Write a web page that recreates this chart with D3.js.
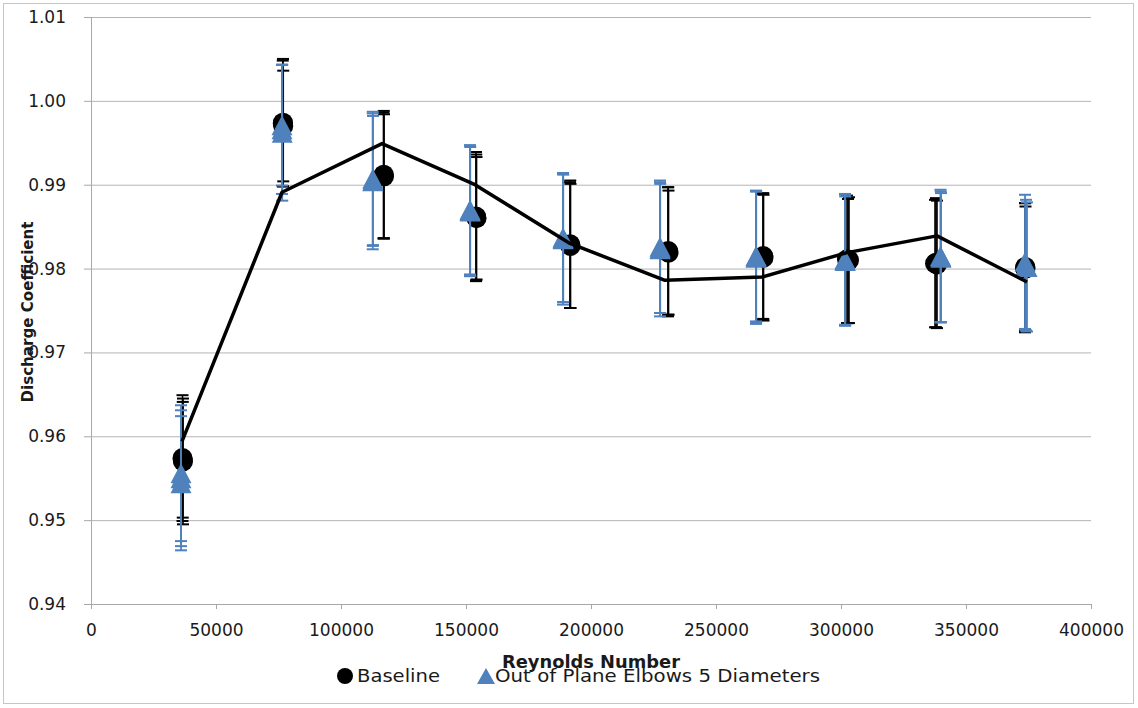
<!DOCTYPE html>
<html>
<head>
<meta charset="utf-8">
<script src="https://cdn.jsdelivr.net/npm/d3@7"></script>
<style>
  body { margin: 0; background: #fff; }
  svg { display: block; }
  text { font-family: "DejaVu Sans", sans-serif; fill: #1a1a1a; }
</style>
</head>
<body>
<svg id="chart" width="1138" height="708"></svg>
<script>
// ---- axis ticks ----
const reynoldsTicks = [0, 50000, 100000, 150000, 200000, 250000, 300000, 350000, 400000];
const cdTicks = [0.94, 0.95, 0.96, 0.97, 0.98, 0.99, 1.00, 1.01];

// ---- mean discharge coefficient curve ----
const curveRe = [36400, 76400, 116400, 153600, 191600, 229600, 268400, 302400, 338400, 374400];
const curveCd = [0.9594, 0.9891, 0.9949, 0.9900, 0.9830, 0.9786, 0.9790, 0.9819, 0.9839, 0.9784];

// ---- Baseline: three repeat runs ----
const baselineRe1 = [36600, 76800, 117000, 154000, 191600, 230800, 268800, 302400, 337600, 373600];
const baselineCd1 = [0.9574, 0.9974, 0.9911, 0.9862, 0.9828, 0.9820, 0.9814, 0.9811, 0.9806, 0.9801];
const baselineErr1 = [0.0075, 0.0076, 0.0075, 0.0077, 0.0075, 0.0077, 0.0075, 0.0076, 0.0076, 0.0077];

const baselineRe2 = [36800, 76900, 117200, 154200, 191800, 231000, 269000, 303200, 338400, 373800];
const baselineCd2 = [0.9570, 0.9970, 0.9910, 0.9860, 0.9827, 0.9819, 0.9813, 0.9810, 0.9805, 0.9800];
const baselineErr2 = [0.0075, 0.0066, 0.0074, 0.0073, 0.0074, 0.0074, 0.0075, 0.0075, 0.0076, 0.0074];

const baselineRe3 = [36700, 76700, 117100, 154100, 191700, 230900, 268900, 302800, 338000, 373700];
const baselineCd3 = [0.9572, 0.9973, 0.9912, 0.9861, 0.9829, 0.9821, 0.9815, 0.9809, 0.9807, 0.9802];
const baselineErr3 = [0.0069, 0.0075, 0.0076, 0.0075, 0.0076, 0.0076, 0.0075, 0.0074, 0.0077, 0.0076];

// ---- Out of Plane Elbows 5 Diameters: three repeat runs ----
const elbowRe1 = [36000, 76400, 112700, 151600, 188800, 227600, 266000, 301600, 339800, 373600];
const elbowCd1 = [0.9556, 0.9971, 0.9907, 0.9870, 0.9837, 0.9826, 0.9815, 0.9810, 0.9815, 0.9808];
const elbowErr1 = [0.0081, 0.0072, 0.0080, 0.0077, 0.0077, 0.0079, 0.0078, 0.0078, 0.0079, 0.0080];

const elbowRe2 = [36000, 76400, 112800, 151700, 188900, 227700, 266100, 301700, 340000, 374000];
const elbowCd2 = [0.9550, 0.9966, 0.9905, 0.9868, 0.9836, 0.9824, 0.9814, 0.9809, 0.9813, 0.9804];
const elbowErr2 = [0.0081, 0.0077, 0.0077, 0.0077, 0.0076, 0.0077, 0.0078, 0.0077, 0.0077, 0.0078];

const elbowRe3 = [36000, 76500, 112700, 151600, 188800, 227600, 266000, 301600, 339900, 374400];
const elbowCd3 = [0.9544, 0.9962, 0.9904, 0.9869, 0.9835, 0.9823, 0.9813, 0.9811, 0.9814, 0.9802];
const elbowErr3 = [0.0080, 0.0081, 0.0081, 0.0078, 0.0078, 0.0080, 0.0079, 0.0078, 0.0078, 0.0077];

const BLUE = "#4f81bd";

function run(re, cd, err) {
  return re.map((r, i) => ({ re: r, cd: cd[i], err: err[i] }));
}
const baselineRuns = [
  run(baselineRe1, baselineCd1, baselineErr1),
  run(baselineRe2, baselineCd2, baselineErr2),
  run(baselineRe3, baselineCd3, baselineErr3)
];
const elbowRuns = [
  run(elbowRe1, elbowCd1, elbowErr1),
  run(elbowRe2, elbowCd2, elbowErr2),
  run(elbowRe3, elbowCd3, elbowErr3)
];

const svg = d3.select("#chart");

// outer chart frame
svg.append("rect")
  .attr("x", 3.5).attr("y", 3.5)
  .attr("width", 1130).attr("height", 700)
  .attr("fill", "none").attr("stroke", "#c6c6c6").attr("stroke-width", 1);

const x = d3.scaleLinear().domain([0, 400000]).range([91, 1091]);
const y = d3.scaleLinear().domain([0.94, 1.01]).range([604, 17]);

// horizontal gridlines
svg.append("g")
  .attr("transform", "translate(91,0)")
  .call(d3.axisLeft(y).tickValues(cdTicks.slice(1)).tickSize(-1000).tickFormat(""))
  .call(g => g.select(".domain").remove())
  .call(g => g.selectAll("line").attr("stroke", "#b4b4b4").attr("stroke-width", 1));

// y axis
const yAxis = svg.append("g")
  .attr("transform", "translate(91,0)")
  .call(d3.axisLeft(y).tickValues(cdTicks).tickSize(7).tickPadding(18).tickFormat(d3.format(".2f")));
yAxis.select(".domain").attr("stroke", "#a8a8a8");
yAxis.selectAll(".tick line").attr("stroke", "#a8a8a8");
yAxis.selectAll("text")
  .attr("font-size", 17)
  .attr("font-family", "DejaVu Sans, sans-serif")
  .attr("fill", "#1a1a1a");

// x axis
const xAxis = svg.append("g")
  .attr("transform", "translate(0,604)")
  .call(d3.axisBottom(x).tickValues(reynoldsTicks).tickSize(5).tickPadding(15).tickFormat(d3.format("d")));
xAxis.select(".domain").attr("stroke", "#a8a8a8");
xAxis.selectAll(".tick line").attr("stroke", "#a8a8a8");
xAxis.selectAll("text")
  .attr("font-size", 17)
  .attr("font-family", "DejaVu Sans, sans-serif")
  .attr("fill", "#1a1a1a");

// error bars + markers for a series
function drawSeries(runs, color, barWidth, markerFn) {
  const g = svg.append("g");
  runs.forEach(pts => {
    const bars = g.append("g").attr("stroke", color);
    bars.selectAll("line.v").data(pts).join("line")
      .attr("class", "v")
      .attr("x1", d => x(d.re)).attr("x2", d => x(d.re))
      .attr("y1", d => y(d.cd + d.err)).attr("y2", d => y(d.cd - d.err))
      .attr("stroke-width", barWidth);
    bars.selectAll("line.top").data(pts).join("line")
      .attr("class", "top")
      .attr("x1", d => x(d.re) - 6).attr("x2", d => x(d.re) + 6)
      .attr("y1", d => y(d.cd + d.err)).attr("y2", d => y(d.cd + d.err))
      .attr("stroke-width", 2);
    bars.selectAll("line.bot").data(pts).join("line")
      .attr("class", "bot")
      .attr("x1", d => x(d.re) - 6).attr("x2", d => x(d.re) + 6)
      .attr("y1", d => y(d.cd - d.err)).attr("y2", d => y(d.cd - d.err))
      .attr("stroke-width", 2);
  });
  runs.forEach(pts => {
    markerFn(g.append("g").selectAll("path").data(pts).join("path"));
  });
}

// triangle centred on its bounding box
function trianglePath(w, h) {
  return `M0,${-h / 2}L${w / 2},${h / 2}L${-w / 2},${h / 2}Z`;
}

drawSeries(baselineRuns, "#000", 1.6, sel =>
  sel.attr("d", d3.symbol(d3.symbolCircle, Math.PI * 10 * 10)())
    .attr("transform", d => `translate(${x(d.re)},${y(d.cd)})`)
    .attr("fill", "#000"));

drawSeries(elbowRuns, BLUE, 1.8, sel =>
  sel.attr("d", trianglePath(21, 20))
    .attr("transform", d => `translate(${x(d.re)},${y(d.cd)})`)
    .attr("fill", BLUE));

// mean curve
const curve = curveRe.map((r, i) => ({ re: r, cd: curveCd[i] }));
svg.append("path")
  .datum(curve)
  .attr("d", d3.line().x(d => x(d.re)).y(d => y(d.cd)))
  .attr("fill", "none")
  .attr("stroke", "#000")
  .attr("stroke-width", 3.5)
  .attr("stroke-linejoin", "round");

// axis titles
svg.append("text")
  .attr("transform", "translate(33,312) rotate(-90)")
  .attr("text-anchor", "middle")
  .attr("font-size", 16)
  .attr("font-weight", "bold")
  .attr("textLength", 181)
  .attr("lengthAdjust", "spacingAndGlyphs")
  .text("Discharge Coefficient");

svg.append("text")
  .attr("x", 591).attr("y", 668)
  .attr("text-anchor", "middle")
  .attr("font-size", 18)
  .attr("font-weight", "bold")
  .attr("textLength", 178)
  .attr("lengthAdjust", "spacingAndGlyphs")
  .text("Reynolds Number");

// legend
const legend = svg.append("g");
legend.append("circle").attr("cx", 345).attr("cy", 676).attr("r", 8).attr("fill", "#000");
legend.append("text")
  .attr("x", 357).attr("y", 682)
  .attr("font-size", 17)
  .attr("textLength", 83)
  .attr("lengthAdjust", "spacingAndGlyphs")
  .text("Baseline");
legend.append("path")
  .attr("d", trianglePath(18, 16))
  .attr("transform", "translate(486,676)")
  .attr("fill", BLUE);
legend.append("text")
  .attr("x", 495).attr("y", 682)
  .attr("font-size", 17)
  .attr("textLength", 325)
  .attr("lengthAdjust", "spacingAndGlyphs")
  .text("Out of Plane Elbows 5 Diameters");
</script>
</body>
</html>
